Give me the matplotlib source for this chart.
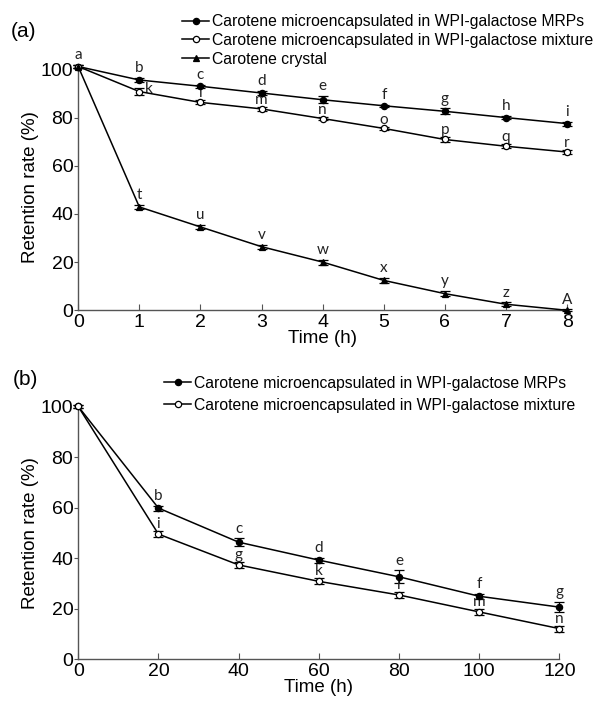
import matplotlib.pyplot as plt
from matplotlib.lines import Line2D

plt.rcParams['font.family'] = ['Liberation Sans', 'DejaVu Sans']

# (a) storage at short times
time_a = [0, 1, 2, 3, 4, 5, 6, 7, 8]
mrp_a = [101.2, 95.6, 93.0, 90.2, 87.4, 84.9, 82.6, 80.0, 77.5]
mrp_a_err = [0.6, 1.0, 0.6, 1.0, 1.5, 0.5, 1.2, 0.6, 0.8]
mix_a = [101.2, 90.8, 86.3, 83.6, 79.6, 75.5, 70.9, 68.1, 65.7]
mix_a_err = [0.6, 1.5, 0.8, 0.8, 0.8, 0.6, 0.9, 0.8, 0.8]
cry_a = [101.2, 42.9, 34.6, 26.4, 20.0, 12.4, 6.9, 2.5, 0.0]
cry_a_err = [0.6, 1.0, 0.8, 0.8, 1.0, 1.2, 1.0, 0.8, 0.4]
mrp_a_lbl = ['a', 'b', 'c', 'd', 'e', 'f', 'g', 'h', 'i']
mix_a_lbl = ['', 'k', 'l', 'm', 'n', 'o', 'p', 'q', 'r']
cry_a_lbl = ['', 't', 'u', 'v', 'w', 'x', 'y', 'z', 'A']

# (b) storage at long times
time_b = [0, 20, 40, 60, 80, 100, 120]
mrp_b = [100.0, 59.8, 46.3, 39.2, 32.6, 24.9, 20.6]
mrp_b_err = [0.5, 1.0, 1.5, 1.0, 2.5, 1.0, 2.0]
mix_b = [100.0, 49.5, 37.3, 30.8, 25.4, 18.7, 12.1]
mix_b_err = [0.5, 1.2, 1.2, 1.2, 1.2, 1.2, 1.2]
mrp_b_lbl = ['a', 'b', 'c', 'd', 'e', 'f', 'g']
mix_b_lbl = ['', 'i', 'g', 'k', 'l', 'm', 'n']

LEG_MRP = "Carotene microencapsulated in WPI-galactose MRPs"
LEG_MIX = "Carotene microencapsulated in WPI-galactose mixture"
LEG_CRY = "Carotene crystal"

MS = 4.5


def draw_series(ax, x, y, err, marker, face):
    ax.errorbar(x, y, yerr=err, color='black', lw=1.1, marker=marker, ms=MS,
                mfc=face, mec='black', mew=0.9, capsize=3.5, elinewidth=0.9,
                clip_on=False, zorder=3)


def handle(marker, face):
    return Line2D([], [], color='black', lw=1.1, marker=marker, ms=MS,
                  mfc=face, mec='black', mew=0.9)


def put_letters(ax, x, y, err, letters, dx=0, dy=2):
    for xi, yi, ei, t in zip(x, y, err, letters):
        if not t:
            continue
        ax.annotate(t, (xi, yi + ei), xytext=(dx, dy), textcoords='offset points',
                    ha='center', va='bottom', fontsize=11, family=['Lato', 'DejaVu Sans'],
                    color='#222222')


def style_axes(ax):
    for s in ('top', 'right'):
        ax.spines[s].set_visible(False)
    for s in ('left', 'bottom'):
        ax.spines[s].set_color('#555555')
        ax.spines[s].set_linewidth(1.0)
    ax.tick_params(axis='x', direction='in', length=4, color='#555555', labelsize=14, pad=3)
    ax.tick_params(axis='y', direction='out', length=3, color='#555555', labelsize=14, pad=0.5)
    ax.set_ylabel("Retention rate (%)", fontsize=13.5, labelpad=1)
    ax.set_xlabel("Time (h)", fontsize=13.5, labelpad=-1)


fig = plt.figure(figsize=(5.97, 7.02), dpi=100)

ax1 = fig.add_axes([0.131, 0.558, 0.819, 0.350])
draw_series(ax1, time_a, mrp_a, mrp_a_err, 'o', 'black')
draw_series(ax1, time_a, mix_a, mix_a_err, 'o', 'white')
draw_series(ax1, time_a, cry_a, cry_a_err, '^', 'black')
put_letters(ax1, time_a, mrp_a, mrp_a_err, mrp_a_lbl)
put_letters(ax1, time_a[2:], mix_a[2:], mix_a_err[2:], mix_a_lbl[2:], dy=0)
put_letters(ax1, time_a[1:2], mix_a[1:2], mix_a_err[1:2], mix_a_lbl[1:2], dx=7, dy=-6)
put_letters(ax1, time_a, cry_a, cry_a_err, cry_a_lbl)
ax1.set_xlim(0, 8)
ax1.set_ylim(0, 102)
ax1.set_xticks(range(0, 9))
ax1.set_yticks(range(0, 101, 20))
style_axes(ax1)
ax1.legend([handle('o', 'black'), handle('o', 'white'), handle('^', 'black')],
           [LEG_MRP, LEG_MIX, LEG_CRY],
           loc='lower left', bbox_to_anchor=(0.2, 0.965), frameon=False, fontsize=11.3,
           handlelength=1.7, handletextpad=0.2, labelspacing=0.25, borderaxespad=0)
fig.text(0.018, 0.948, "(a)", fontsize=15)

ax2 = fig.add_axes([0.131, 0.061, 0.806, 0.360])
draw_series(ax2, time_b, mrp_b, mrp_b_err, 'o', 'black')
draw_series(ax2, time_b, mix_b, mix_b_err, 'o', 'white')
put_letters(ax2, time_b, mrp_b, mrp_b_err, mrp_b_lbl)
put_letters(ax2, time_b, mix_b, mix_b_err, mix_b_lbl, dy=0)
ax2.set_xlim(0, 120)
ax2.set_ylim(0, 100)
ax2.set_xticks(range(0, 121, 20))
ax2.set_yticks(range(0, 101, 20))
style_axes(ax2)
ax2.legend([handle('o', 'black'), handle('o', 'white')], [LEG_MRP, LEG_MIX],
           loc='lower left', bbox_to_anchor=(0.166, 0.95), frameon=False, fontsize=11.3,
           handlelength=1.7, handletextpad=0.2, labelspacing=0.45, borderaxespad=0)
fig.text(0.022, 0.452, "(b)", fontsize=15)

fig.savefig("out.png", dpi=100)
